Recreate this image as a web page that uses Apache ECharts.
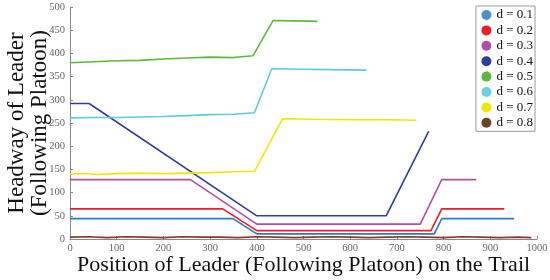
<!DOCTYPE html>
<html><head><meta charset="utf-8">
<script src="https://cdn.jsdelivr.net/npm/echarts@6/dist/echarts.min.js"></script>
<style>html,body{margin:0;padding:0;background:#fff}#c{width:550px;height:280px}</style>
</head><body><div id="c"></div>
<script>
const seriesNames = ['d = 0.1','d = 0.2','d = 0.3','d = 0.4','d = 0.5','d = 0.6','d = 0.7','d = 0.8'];
const xTicks = [0,100,200,300,400,500,600,700,800,900,1000];
const yTicks = [0,50,100,150,200,250,300,350,400,450,500];

const d01X = [0, 349, 400, 780, 796, 951];
const d01Y = [44, 44, 11, 11, 44, 44];
const d02X = [0, 327, 400, 773, 796, 930];
const d02Y = [65, 65, 18, 18, 65, 65];
const d03X = [0, 258, 400, 750, 796, 870];
const d03Y = [128, 128, 32, 32, 128, 128];
const d04X = [0, 41, 400, 677, 768];
const d04Y = [292, 292, 50, 50, 232];
const d05X = [0, 50, 100, 150, 200, 250, 300, 350, 392, 435, 480, 530];
const d05Y = [380, 382, 384, 385, 388, 390, 392, 391, 395, 471, 470, 469];
const d06X = [0, 50, 100, 150, 200, 250, 300, 350, 395, 432, 500, 560, 635];
const d06Y = [261, 262, 262, 263, 264, 266, 268, 269, 272, 367, 366, 365, 364];
const d07X = [0, 30, 60, 100, 150, 200, 250, 300, 350, 395, 455, 520, 600, 680, 742];
const d07Y = [140, 141, 139, 141, 142, 141, 142, 143, 145, 146, 259, 258, 257, 257, 256];
const d08X = [0, 40, 80, 120, 160, 200, 240, 280, 320, 360, 400, 440, 480, 520, 560, 600, 640, 680, 720, 760, 800, 840, 880, 920, 960, 988];
const d08Y = [4, 5, 3, 5, 4, 3, 5, 4, 4, 3, 5, 4, 3, 4, 5, 4, 3, 4, 5, 4, 3, 5, 4, 3, 4, 3];

const seriesX = [d01X, d02X, d03X, d04X, d05X, d06X, d07X, d08X];
const seriesY = [d01Y, d02Y, d03Y, d04Y, d05Y, d06Y, d07Y, d08Y];
const colors = ['#2a78c8', '#ee1c25', '#b04fa6', '#2d3f9e', '#5ab83c', '#5ccbe0', '#f2e600', '#8a3a22'];
const legendColors = ['#4a8fd0', '#ee1c25', '#b04fa6', '#2d3f9e', '#5ab83c', '#6cd0e3', '#f2e600', '#6b4522'];

const serif = 'Liberation Serif';
const chart = echarts.init(document.getElementById('c'));
chart.setOption({
  animation: false,
  grid: {left: 70, top: 7, right: 13, bottom: 41, containLabel: false, outerBoundsMode: 'none'},
  legend: {
    orient: 'vertical', right: 15, top: 6,
    data: seriesNames,
    icon: 'circle', itemWidth: 10, itemHeight: 10, itemGap: 2.4,
    borderColor: '#999', borderWidth: 1, backgroundColor: '#fff',
    padding: [2.5, 2, 2, 5.5],
    textStyle: {fontFamily: serif, fontSize: 13, color: '#111'}
  },
  xAxis: {
    type: 'value', min: 0, max: 1000, interval: 100,
    name: 'Position of Leader (Following Platoon) on the Trail',
    nameLocation: 'middle', nameGap: 15, nameMoveOverlap: false,
    nameTextStyle: {fontFamily: serif, fontSize: 22, color: '#111'},
    axisLine: {show: true, lineStyle: {color: '#888', width: 1}},
    axisTick: {show: true, inside: true, length: 3, lineStyle: {color: '#888'}},
    axisLabel: {fontFamily: serif, fontSize: 10.5, color: '#666', margin: 4,
      formatter: v => xTicks.includes(v) ? String(v) : ''},
    splitLine: {show: false}
  },
  yAxis: {
    type: 'value', min: 0, max: 500, interval: 50,
    name: 'Headway of Leader\n(Following Platoon)',
    nameLocation: 'middle', nameGap: 19, nameRotate: 90, nameMoveOverlap: false,
    nameTextStyle: {fontFamily: serif, fontSize: 23, color: '#111', lineHeight: 23},
    axisLine: {show: true, lineStyle: {color: '#888', width: 1}},
    axisTick: {show: true, inside: true, length: 3, lineStyle: {color: '#888'}},
    axisLabel: {fontFamily: serif, fontSize: 10.5, color: '#666', margin: 5,
      formatter: v => yTicks.includes(v) ? String(v) : ''},
    splitLine: {show: false}
  },
  series: seriesNames.map((n, i) => ({
    name: n, type: 'line', symbol: 'none',
    data: seriesX[i].map((x, j) => [x, seriesY[i][j]]),
    lineStyle: {color: colors[i], width: 1.6},
    itemStyle: {color: legendColors[i]}
  }))
});
</script></body></html>
